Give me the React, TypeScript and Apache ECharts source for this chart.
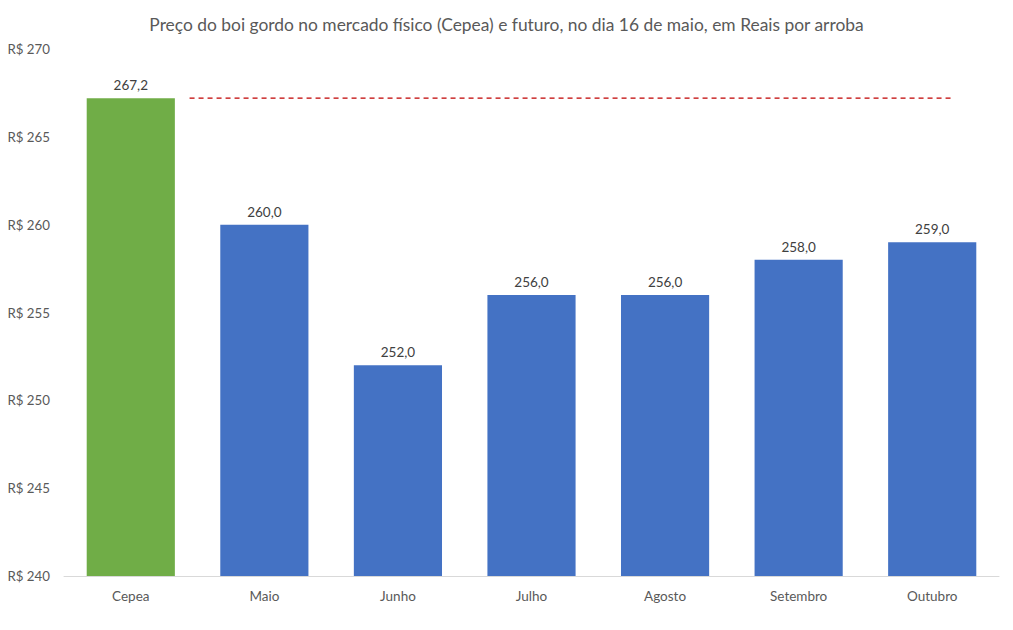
import React, { useEffect, useRef } from "react";
import * as echarts from "echarts";

const categories = ["Cepea", "Maio", "Junho", "Julho", "Agosto", "Setembro", "Outubro"];
const values = [267.2, 260.0, 252.0, 256.0, 256.0, 258.0, 259.0];
const barColors = ["#70AD47", "#4472C4", "#4472C4", "#4472C4", "#4472C4", "#4472C4", "#4472C4"];
const refLineX = [0.94, 6.65];
const refLineValue = 267.2;
const title = "Preço do boi gordo no mercado físico (Cepea) e futuro, no dia 16 de maio, em Reais por arroba";

export default function App() {
  const ref = useRef<HTMLDivElement>(null);
  useEffect(() => {
    const chart = echarts.init(ref.current!, null, { renderer: "svg" });
    const font = "Lato, sans-serif";
    chart.setOption({
      animation: false,
      textStyle: { fontFamily: font },
      title: {
        text: title,
        left: "center",
        top: 11,
        textStyle: { fontSize: 17.4, fontWeight: "normal", color: "#595959", fontFamily: font },
      },
      grid: { left: 64, right: 14, top: 49, bottom: 54 },
      xAxis: [
        {
          type: "category",
          data: categories,
          axisLine: { lineStyle: { color: "#D9D9D9" } },
          axisTick: { show: false },
          axisLabel: { color: "#595959", fontSize: 13.5, margin: 13, fontFamily: font },
        },
        { type: "value", min: 0, max: 7, show: false },
      ],
      yAxis: {
        type: "value",
        min: 240,
        max: 270,
        interval: 5,
        splitLine: { show: false },
        axisLine: { show: false },
        axisTick: { show: false },
        axisLabel: {
          color: "#595959",
          fontSize: 13.3,
          margin: 14,
          fontFamily: font,
          formatter: (v: number) => "R$ " + v,
        },
      },
      series: [
        {
          type: "bar",
          barWidth: "66%",
          data: values.map((v, i) => ({ value: v, itemStyle: { color: barColors[i] } })),
          label: {
            show: true,
            position: "top",
            distance: 6,
            color: "#404040",
            fontSize: 13.5,
            fontFamily: font,
            formatter: (p: any) => p.value.toFixed(1).replace(".", ","),
          },
        },
        {
          type: "line",
          xAxisIndex: 1,
          data: refLineX.map((x) => [x, refLineValue]),
          symbol: "none",
          lineStyle: { color: "#C00000", type: [5, 4], width: 1.2 },
        },
      ],
    });
    return () => chart.dispose();
  }, []);
  return <div ref={ref} style={{ width: 1013, height: 630, margin: -8 }} />;
}
